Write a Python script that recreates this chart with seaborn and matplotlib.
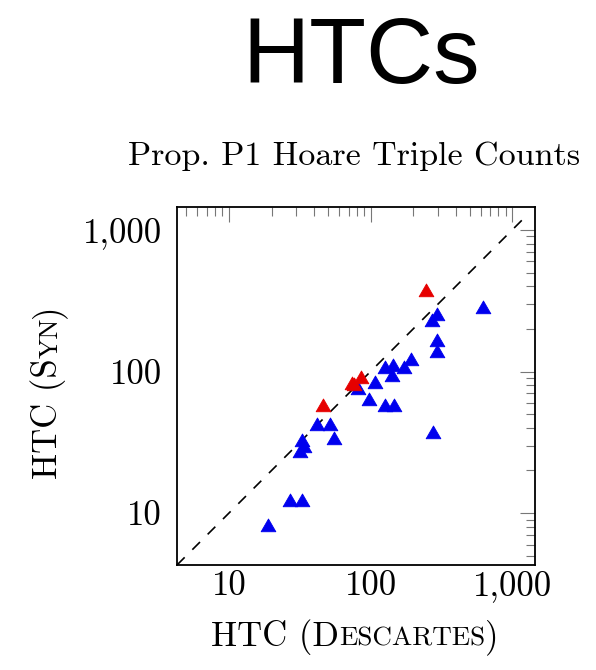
import numpy as np
import pandas as pd
import matplotlib
matplotlib.use("Agg")
import matplotlib.pyplot as plt
import seaborn as sns
from matplotlib.path import Path
from matplotlib.markers import MarkerStyle
from matplotlib.ticker import LogLocator, NullFormatter

# ---------------- data ----------------
descartes_blue = [19, 27, 33, 32.7, 34, 32, 42, 52, 55, 82, 97, 107, 127, 147,
                  126, 145, 141, 171, 192, 271, 297, 297, 297, 278, 627]
syn_blue = [8.0, 12, 12, 31.7, 29, 26.5, 41.5, 41.5, 33, 74, 62, 82, 56, 56,
            105, 108, 92, 104, 119, 223, 248, 161, 135, 36, 278]
descartes_red = [46, 74, 77, 85, 247]
syn_red = [56, 80, 79, 88, 365]

diag = [4.3, 1230]

title = "HTCs"
subtitle = "Prop. P1 Hoare Triple Counts"
tick_values = [10, 100, 1000]
tick_labels = ["10", "100", "1,000"]
xlabel_parts = ["HTC (D", "ESCARTES", ")"]
ylabel_parts = ["HTC (S", "YN", ")"]

# ---------------- style ----------------
sns.set_style("white")
plt.rcParams["font.family"] = ["cmr10", "DejaVu Serif"]
plt.rcParams["axes.unicode_minus"] = False
plt.rcParams["axes.formatter.use_mathtext"] = True
plt.rcParams["text.color"] = "black"
plt.rcParams["xtick.labelcolor"] = "black"
plt.rcParams["ytick.labelcolor"] = "black"

W, H = 596, 670
fig = plt.figure(figsize=(W / 100, H / 100), dpi=100)
ax_l, ax_r, ax_t, ax_b = 177, 535, 206.7, 565
ax = fig.add_axes([ax_l / W, (H - ax_b) / H, (ax_r - ax_l) / W, (ax_b - ax_t) / H])

df = pd.DataFrame({
    "descartes": descartes_blue + descartes_red,
    "syn": syn_blue + syn_red,
    "group": ["blue"] * len(descartes_blue) + ["red"] * len(descartes_red),
})

tri = Path([(0, 1), (-0.866, -0.5), (0.866, -0.5), (0, 1)],
           [Path.MOVETO, Path.LINETO, Path.LINETO, Path.CLOSEPOLY])
mk = MarkerStyle(tri)

ax.set_xscale("log")
ax.set_yscale("log")

ax.plot(diag, diag, color="black", lw=1.2, dashes=(6.5, 6.5), zorder=1)

palette = {"blue": "#0000ee", "red": "#e60000"}
for g in ["blue", "red"]:
    sub = df[df["group"] == g]
    sns.scatterplot(data=sub, x="descartes", y="syn", ax=ax, marker=mk, s=150,
                    color=palette[g], edgecolor=palette[g], linewidth=0.6,
                    legend=False, zorder=3)

ax.set_xlim(4.3, 1450)
ax.set_ylim(4.3, 1460)
ax.set_xlabel("")
ax.set_ylabel("")

ax.set_xticks(tick_values, tick_labels)
ax.set_yticks(tick_values, tick_labels)
for axis in (ax.xaxis, ax.yaxis):
    axis.set_minor_locator(LogLocator(base=10, subs=np.arange(2, 10)))
    axis.set_minor_formatter(NullFormatter())

ax.tick_params(which="both", direction="in", top=True, right=True,
               color="#777777", width=0.8)
ax.tick_params(which="major", length=10.8, labelsize=25)
ax.tick_params(which="minor", length=6.5)
ax.tick_params(axis="x", which="major", pad=4)
ax.tick_params(axis="y", which="major", pad=11)
for sp in ax.spines.values():
    sp.set_linewidth(1.3)
    sp.set_color("black")
    sp.set_visible(True)

# ---------------- titles ----------------
fig.text(361 / W, (H - 82.7) / H, title, ha="center", va="baseline",
         fontsize=67, color="black", family=["Liberation Sans", "DejaVu Sans"])
fig.text(354 / W, (H - 165) / H, subtitle, ha="center", va="baseline",
         fontsize=24.5, color="black")

# ---------------- small-caps axis labels ----------------
big, small = 25, 19.5
sizes = [big, small, big]
renderer = fig.canvas.get_renderer()


def measure(s, size):
    t = fig.text(0, 0, s, fontsize=size)
    w = t.get_window_extent(renderer).width
    t.remove()
    return w


xw = [measure(s, sz) for s, sz in zip(xlabel_parts, sizes)]
x0 = 355 - sum(xw) / 2
xtexts = []
for s, sz, w in zip(xlabel_parts, sizes, xw):
    xtexts.append(fig.text(x0 / W, (H - 646) / H, s, fontsize=sz,
                           ha="left", va="baseline", color="black"))
    x0 += w

yw = [measure(s, sz) for s, sz in zip(ylabel_parts, sizes)]
y0 = (H - 392) - sum(yw) / 2
ytexts = []
for s, sz, w in zip(ylabel_parts, sizes, yw):
    ytexts.append(fig.text(57.3 / W, y0 / H, s, fontsize=sz, ha="left",
                           va="baseline", rotation=90, rotation_mode="anchor",
                           color="black"))
    y0 += w

# re-centre the composed labels on their targets
fig.canvas.draw()
renderer = fig.canvas.get_renderer()
xb = [t.get_window_extent(renderer) for t in xtexts]
xc = (min(b.x0 for b in xb) + max(b.x1 for b in xb)) / 2
dx = 355 - xc
for t in xtexts:
    px, py = t.get_position()
    t.set_position((px + dx / W, py))
yb = [t.get_window_extent(renderer) for t in ytexts]
yc = (min(b.y0 for b in yb) + max(b.y1 for b in yb)) / 2
dy = (H - 391.5) - yc
for t in ytexts:
    px, py = t.get_position()
    t.set_position((px, py + dy / H))

fig.savefig("out.png", dpi=100)
